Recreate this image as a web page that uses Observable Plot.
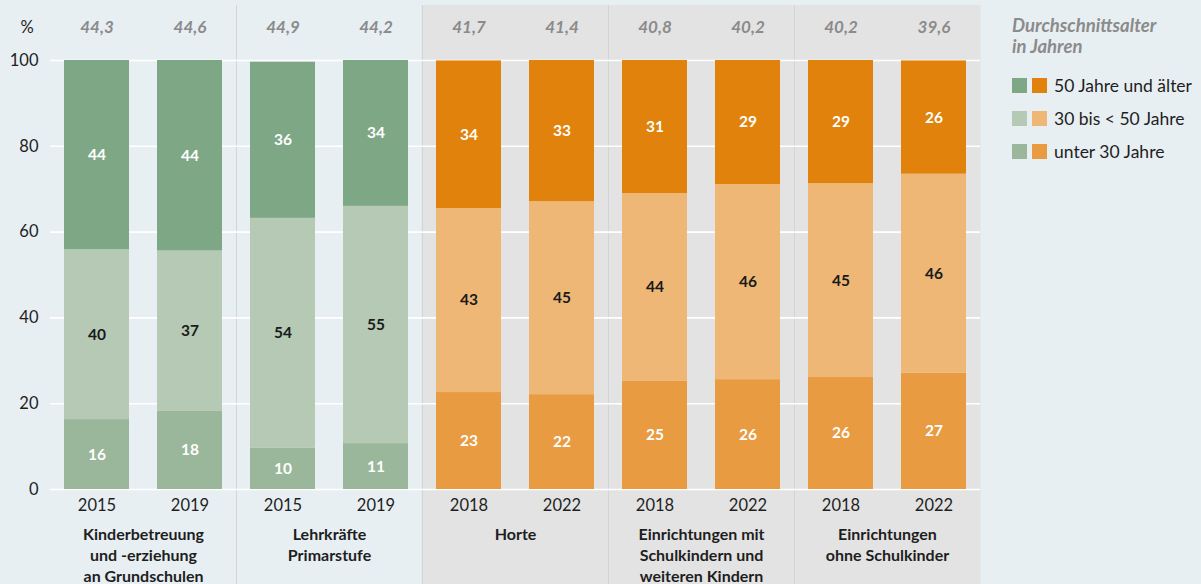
<!DOCTYPE html>
<html>
<head>
<meta charset="utf-8">
<script src="https://cdn.jsdelivr.net/npm/d3@7"></script>
<script src="https://cdn.jsdelivr.net/npm/@observablehq/plot@0.6"></script>
<style>
  html, body { margin: 0; padding: 0; background: #e8eff3; }
  #wrap { position: relative; width: 1201px; height: 584px; overflow: hidden; font-family: Lato, "Noto Sans", sans-serif; }
  #legend { position: absolute; left: 1012px; top: 15px; color: #1e1e1e; }
  #legend .title { font-style: italic; font-weight: 700; color: #8b8b8b; font-size: 18.5px; line-height: 21px; margin-bottom: 12px; }
  #legend .item { display: flex; align-items: center; height: 33px; font-size: 17.5px; }
  #legend .sw { width: 15px; height: 15px; margin-right: 5px; }
  #legend .sw + .sw { margin-right: 7px; }
</style>
</head>
<body>
<div id="wrap"></div>
<script>
// ---- data ----
const groups = [
  "Kinderbetreuung\nund -erziehung\nan Grundschulen",
  "Lehrkräfte\nPrimarstufe",
  "Horte",
  "Einrichtungen mit\nSchulkindern und\nweiteren Kindern",
  "Einrichtungen\nohne Schulkinder"
];
const barGroup = [0, 0, 1, 1, 2, 2, 3, 3, 4, 4];
const barYear = ["2015", "2019", "2015", "2019", "2018", "2022", "2018", "2022", "2018", "2022"];
const avgAge = [44.3, 44.6, 44.9, 44.2, 41.7, 41.4, 40.8, 40.2, 40.2, 39.6];
const under30 = [16.3, 18.2, 9.6, 10.7, 22.6, 22.1, 25.2, 25.6, 26.1, 27.1];
const from30to50 = [39.6, 37.4, 53.6, 55.3, 42.9, 45.0, 43.8, 45.5, 45.2, 46.4];
const over50 = [44.1, 44.4, 36.4, 34.0, 34.4, 32.9, 31.0, 28.9, 28.7, 26.4];
const ageClasses = ["unter 30 Jahre", "30 bis < 50 Jahre", "50 Jahre und älter"];
const groupPalette = ["green", "green", "orange", "orange", "orange"];

// ---- styles ----
const colors = {
  green: ["#9ab79b", "#b5c9b4", "#7ea785"],
  orange: ["#e89b40", "#efb775", "#e0820b"]
};
const textColors = ["#ffffff", "#1a1a1a", "#ffffff"];
const panelGray = "#e3e3e3";

// ---- derived tables ----
const keys = barYear.map((y, i) => `${i}|${y}`);
const bars = keys.map((k, i) => ({key: k, group: barGroup[i], year: barYear[i], avg: avgAge[i]}));
const series = [under30, from30to50, over50];
const segments = [];
bars.forEach((b, i) => {
  series.forEach((s, c) => {
    segments.push({key: b.key, cls: c, value: s[i], fill: colors[groupPalette[b.group]][c], tcolor: textColors[c]});
  });
});
const firstOfGroup = groups.map((g, gi) => ({key: keys[barGroup.indexOf(gi)], label: g, gi}));
const grayBars = bars.filter(b => groupPalette[b.group] === "orange");
const separators = firstOfGroup.filter(d => d.gi > 0);
const fmtComma = d => d3.format(".1f")(d).replace(".", ",");

const chart = Plot.plot({
  width: 1201,
  height: 584,
  marginLeft: 50,
  marginRight: 221,
  marginTop: 60,
  marginBottom: 95,
  style: {background: "transparent", fontFamily: "Lato, 'Noto Sans', sans-serif", fontSize: "15px", color: "#1e1e1e", overflow: "visible"},
  x: {domain: keys, paddingInner: 0.3, paddingOuter: 0.15, axis: null},
  y: {domain: [0, 100], axis: null},
  marks: [
    // grey panels behind the Hort groups
    Plot.barY(grayBars, {x: "key", y1: -23, y2: 112.8, fill: panelGray, insetLeft: -14.5, insetRight: -14.5}),
    // group separators
    Plot.ruleX(separators, {x: "key", y1: -23, y2: 112.8, dx: -46.5, stroke: "#d2d5d7", strokeWidth: 1}),
    // gridlines
    Plot.ruleY([0, 20, 40, 60, 80, 100], {stroke: "#ffffff", strokeWidth: 1.6}),
    // stacked bars
    Plot.barY(segments, {x: "key", y: "value", fill: "fill", order: null}),
    Plot.text(segments, Plot.stackY({x: "key", y: "value", order: null, text: d => d3.format(".0f")(d.value), fill: "tcolor", fontWeight: 700, fontSize: 15.5})),
    // average age on top
    Plot.text(bars, {x: "key", y: 100, dy: -33, text: d => fmtComma(d.avg), fill: "#8b8b8b", fontStyle: "italic", fontWeight: 700, fontSize: 17}),
    // axes
    Plot.axisY({ticks: [0, 20, 40, 60, 80, 100], tickSize: 0, tickPadding: 12, label: null, fontSize: 16.5}),
    Plot.text(["%"], {frameAnchor: "top-left", lineAnchor: "middle", dx: -30, dy: -33, fontSize: 16.5}),
    Plot.axisX({tickSize: 0, tickPadding: 10, tickFormat: k => k.split("|")[1], label: null, fontSize: 16.5}),
    // group labels
    Plot.text(firstOfGroup, {x: "key", y: 0, dx: 46.5, dy: 36, text: "label", lineAnchor: "top", lineHeight: 1.3, fontWeight: 700, fontSize: 16, fill: "#1e1e1e"})
  ]
});

const wrap = document.getElementById("wrap");
wrap.appendChild(chart);

// legend
const legend = document.createElement("div");
legend.id = "legend";
let html = `<div class="title">Durchschnittsalter<br>in Jahren</div>`;
[2, 1, 0].forEach(c => {
  html += `<div class="item"><span class="sw" style="background:${colors.green[c]}"></span><span class="sw" style="background:${colors.orange[c]}"></span><span>${ageClasses[c]}</span></div>`;
});
legend.innerHTML = html;
wrap.appendChild(legend);
</script>
</body>
</html>
